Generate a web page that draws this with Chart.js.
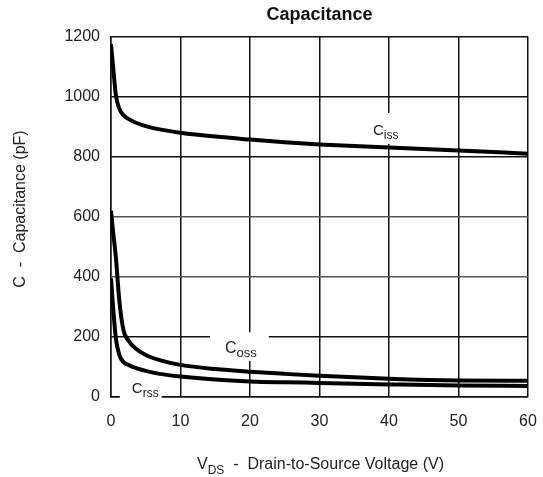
<!DOCTYPE html>
<html>
<head>
<meta charset="utf-8">
<script src="https://cdn.jsdelivr.net/npm/chart.js@4.4.0/dist/chart.umd.min.js"></script>
<style>
  html, body { margin: 0; padding: 0; background: #fff; }
</style>
</head>
<body>
<canvas id="chart" width="543" height="477"></canvas>
<script>
// values (pF vs V)
const vds  = [0, 0.3, 0.7, 1.2, 1.8, 2.5, 3.5, 5, 7, 10, 15, 20, 25, 30, 40, 50, 60];
const ciss = [1175, 1100, 1005, 960, 938, 926, 914, 902, 891, 880, 867, 857, 848, 841, 831, 821, 810];
const coss = [620, 550, 465, 320, 222, 188, 162, 140, 123, 107, 93, 84, 77, 71, 61, 55, 54];
const crss = [395, 300, 195, 140, 116, 107, 97, 87, 77, 68, 58, 52, 49, 47, 42, 38, 37];

const xTicks = [0, 10, 20, 30, 40, 50, 60];
const yTicks = [0, 200, 400, 600, 800, 1000, 1200];

const FONT = '"Liberation Sans", Arial, sans-serif';
const INK = '#111';

// curve name labels, anchored at the left/baseline of the "C"
const curveLabels = [
  { main: 'C', sub: 'iss', x: 37.7, y: 873, size: 15, subSize: 12, pad: [11, 4, 4, 4] },
  { main: 'C', sub: 'oss', x: 16.4, y: 147, size: 16, subSize: 13, pad: [9, 12, 3, 15] },
  { main: 'C', sub: 'rss', x: 3.0, y: 13, size: 15, subSize: 12, pad: [4, 3, 3, 12] }
];

function series(ys) {
  return vds.map((v, i) => ({ x: v, y: ys[i] }));
}

function lineSet(label, ys) {
  return {
    label,
    data: series(ys),
    borderColor: '#000',
    borderWidth: 4,
    pointRadius: 0,
    fill: false,
    cubicInterpolationMode: 'monotone'
  };
}

const labelPlugin = {
  id: 'curveLabels',
  afterDatasetsDraw(chart) {
    const ctx = chart.ctx;
    const xs = chart.scales.x, ys = chart.scales.y;
    ctx.save();
    ctx.textBaseline = 'alphabetic';
    curveLabels.forEach(l => {
      const px = xs.getPixelForValue(l.x);
      const py = ys.getPixelForValue(l.y);
      ctx.font = `${l.size}px ${FONT}`;
      const wMain = ctx.measureText(l.main).width;
      ctx.font = `${l.subSize}px ${FONT}`;
      const wSub = ctx.measureText(l.sub).width;
      const subShift = Math.round(l.size * 0.28);
      const [pt, pr, pb, pl] = l.pad;
      const top = py - l.size * 0.72 - pt;
      const bottom = py + subShift + 1 + pb;
      const left = px - pl;
      const right = px + wMain + wSub + pr;
      ctx.fillStyle = '#fff';
      ctx.fillRect(left, top, right - left, bottom - top);
      ctx.fillStyle = '#222';
      ctx.font = `${l.size}px ${FONT}`;
      ctx.fillText(l.main, px, py);
      ctx.font = `${l.subSize}px ${FONT}`;
      ctx.fillText(l.sub, px + wMain, py + subShift);
    });
    ctx.restore();
  },
  afterDraw(chart) {
    const ctx = chart.ctx;
    const area = chart.chartArea;
    ctx.save();
    ctx.fillStyle = '#222';
    ctx.textBaseline = 'alphabetic';

    // x axis title with subscript
    const big = `16px ${FONT}`, small = `12px ${FONT}`;
    const rest = '  -  Drain-to-Source Voltage (V)';
    ctx.font = big;
    const wV = ctx.measureText('V').width;
    const wRest = ctx.measureText(rest).width;
    ctx.font = small;
    const wDS = ctx.measureText('DS').width;
    let x = (area.left + area.right) / 2 + 1 - (wV + wDS + wRest) / 2;
    const base = 469;
    ctx.font = big;
    ctx.fillText('V', x, base);
    ctx.font = small;
    ctx.fillText('DS', x + wV, base + 5);
    ctx.font = big;
    ctx.fillText(rest, x + wV + wDS, base);

    // y axis title
    ctx.translate(21, 209);
    ctx.rotate(-Math.PI / 2);
    ctx.textAlign = 'center';
    ctx.textBaseline = 'middle';
    ctx.font = big;
    ctx.fillText('C  -  Capacitance (pF)', 0, 0);
    ctx.restore();
  }
};

const tickFont = { family: FONT, size: 16 };

new Chart(document.getElementById('chart'), {
  type: 'line',
  data: {
    datasets: [
      lineSet('Ciss', ciss),
      lineSet('Coss', coss),
      lineSet('Crss', crss)
    ]
  },
  options: {
    responsive: false,
    animation: false,
    layout: { padding: { left: 0, right: 15, top: 0, bottom: 0 } },
    plugins: {
      legend: { display: false },
      tooltip: { enabled: false },
      title: {
        display: true,
        text: 'Capacitance',
        fullSize: false,
        color: INK,
        font: { family: FONT, size: 18, weight: 'bold' },
        padding: { top: 4, bottom: 11 }
      }
    },
    scales: {
      x: {
        type: 'linear',
        min: xTicks[0],
        max: xTicks[xTicks.length - 1],
        afterBuildTicks: s => { s.ticks = xTicks.map(v => ({ value: v })); },
        ticks: { color: '#222', font: tickFont, padding: 15, callback: v => String(v) },
        grid: { color: INK, lineWidth: 1.5, drawTicks: false },
        border: { color: INK, width: 1.5 },
        afterFit: s => { s.height = 80; s.paddingLeft = 0; s.paddingRight = 0; }
      },
      y: {
        type: 'linear',
        min: yTicks[0],
        max: yTicks[yTicks.length - 1],
        afterBuildTicks: s => { s.ticks = yTicks.map(v => ({ value: v })); },
        ticks: { color: '#222', font: tickFont, padding: 11, callback: v => String(v) },
        grid: {
          color: c => (c.tick && (c.tick.value === 400 || c.tick.value === 600)) ? '#555' : INK,
          lineWidth: 1.5,
          drawTicks: false
        },
        border: { color: INK, width: 1.5 },
        afterFit: s => { s.width = 111; }
      }
    }
  },
  plugins: [labelPlugin]
});
</script>
</body>
</html>
